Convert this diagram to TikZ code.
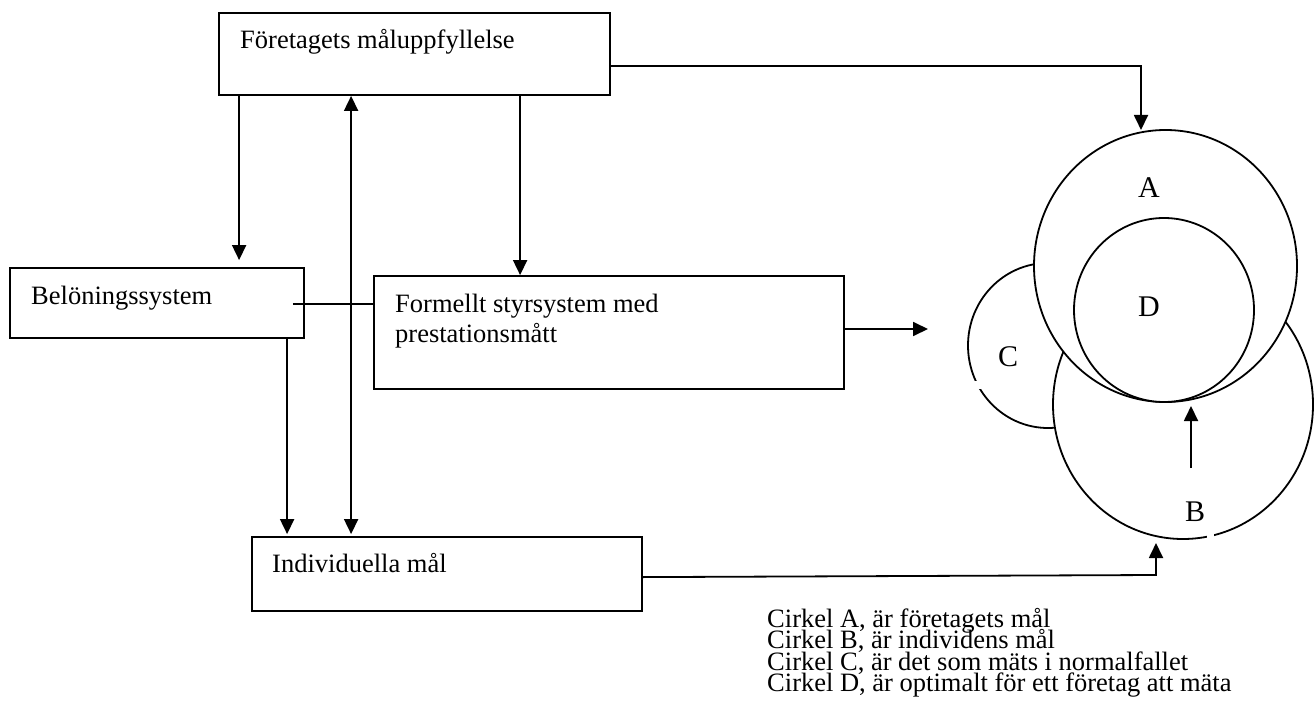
\documentclass[tikz,border=0pt]{standalone}
\usepackage{fontspec}
\setmainfont{Liberation Serif}
\usetikzlibrary{arrows.meta,shapes.geometric,calc}
\newcommand{\tightlines}[2]{\vtop{\baselineskip=#1\lineskiplimit=-100pt\relax #2}}
\begin{document}
\begin{tikzpicture}[x=1pt,y=-1pt,
  box/.style={draw,line width=1.8pt,rectangle,inner sep=0pt,fill=white},
  txt/.style={font=\fontsize{26.5}{30}\selectfont,anchor=base west,inner sep=0pt},
  big/.style={font=\fontsize{30}{34}\selectfont,inner sep=0pt},
  ln/.style={line width=1.8pt},
  arr/.style={line width=1.8pt,-{Triangle[length=15pt,width=14pt]}},
  darr/.style={line width=1.8pt,{Triangle[length=15pt,width=14pt]}-{Triangle[length=15pt,width=14pt]}},
  circ/.style={draw,ellipse,line width=1.8pt,fill=white,inner sep=0pt}]
\useasboundingbox (0,0) rectangle (1314,722);

% boxes
\node[box,minimum width=391pt,minimum height=82pt] (b1) at (414.5,54) {};
\node[box,minimum width=294pt,minimum height=70pt] (b2) at (157,303) {};
\node[box,minimum width=470pt,minimum height=113pt] (b3) at (609,332.5) {};
\node[box,minimum width=390pt,minimum height=74pt] (b4) at (447,574) {};

% box texts
\node[txt] (t1) at (240,49) {Företagets måluppfyllelse};
\node[txt] (t2) at (31,304) {Belöningssystem};
\node[txt] (t3) at (395,312) {\tightlines{30pt}{\hbox{Formellt styrsystem med}\hbox{prestationsmått}}};
\node[txt] (t4) at (272,572) {Individuella mål};

% circles (drawn back to front)
\node[circ,minimum width=160pt,minimum height=165pt] (cC) at (1048,345.5) {};
\node[circ,minimum width=260pt,minimum height=269pt] (cB) at (1183,404.5) {};
\node[circ,minimum width=263pt,minimum height=272pt] (cA) at (1165.5,266) {};
\node[circ,minimum width=180pt,minimum height=184pt] (cD) at (1164,310) {};

% small breaks in the outlines
\fill[white] (971,381) rectangle (987,389);
\fill[white] (1207,531) rectangle (1214,541);

% circle labels
\node[big] (lA) at (1149,188) {A};
\node[big] (lD) at (1149,307) {D};
\node[big] (lC) at (1008,357) {C};
\node[big] (lB) at (1195,512) {B};

% free ends
\coordinate (tA) at (1141,130);
\coordinate (tF) at (928,329);
\coordinate (kB) at (1156,575);
\coordinate (tB) at (1156,543);
\coordinate (sB) at (1191,468);
\coordinate (tD) at (1191,406);

% connectors
\draw[arr] ([yshift=-12pt]b1.east) -| (tA);
\draw[arr] ($(b1.south west)+(21,0)$) -- ($(b2.north west)+(230,-7)$);
\draw[darr] ($(b1.south west)+(133,0)$) -- ($(b4.north west)+(100,-2)$);
\draw[arr] ($(b1.south west)+(302,0)$) -- ($(b3.north west)+(147,0)$);
\draw[ln] ($(b2.east)+(-12,1)$) -- ($(b3.west)+(0,-28.5)$);
\draw[arr] ($(b2.south west)+(278,0)$) -- ($(b4.north west)+(36,-2)$);
\draw[arr] ($(b3.east)+(0,-3.5)$) -- (tF);
\draw[arr] ($(b4.north east)+(0,41)$) -- (kB) -- (tB);
\draw[arr] (sB) -- (tD);

% legend
\node[txt] (leg) at (767,627) {\tightlines{21.5pt}{%
  \hbox{Cirkel A, är företagets mål}%
  \hbox{Cirkel B, är individens mål}%
  \hbox{Cirkel C, är det som mäts i normalfallet}%
  \hbox{Cirkel D, är optimalt för ett företag att mäta}}};
\end{tikzpicture}
\end{document}
